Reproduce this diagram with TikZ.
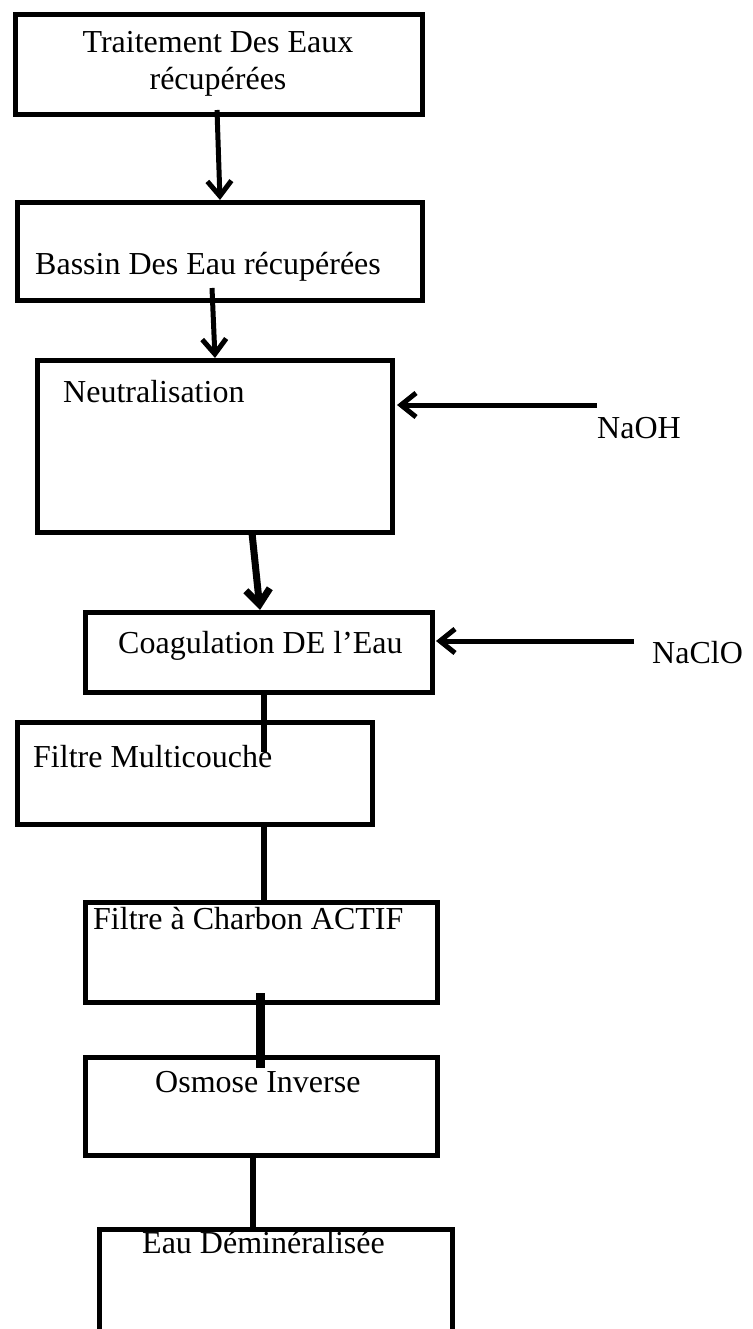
\documentclass[tikz,border=0pt]{standalone}
\usepackage{fontspec}
\setmainfont{Liberation Serif}
\usetikzlibrary{arrows.meta}

\begin{document}
\begin{tikzpicture}[x=1pt,y=-1pt,
  boite/.style={draw,line width=5pt,rectangle,inner sep=0pt},
  texte/.style={inner sep=0pt,anchor=base west,font=\fontsize{32}{37}\selectfont},
  fleche/.style={line width=5pt,-{Straight Barb[length=15pt,width=24pt]}},
  liaison/.style={line width=6pt}]
 \clip (0,0) rectangle (752,1329);
 % boites
 \node[boite,minimum width=407pt,minimum height=100pt] (traitement) at (219,64.5) {};
 \node[boite,minimum width=405pt,minimum height=98pt] (bassin) at (220,251.5) {};
 \node[boite,minimum width=355pt,minimum height=172pt] (neutra) at (215,446.5) {};
 \node[boite,minimum width=347pt,minimum height=80pt] (coag) at (259,652.5) {};
 \node[boite,minimum width=355pt,minimum height=102pt] (multi) at (195,773.5) {};
 \node[boite,minimum width=352pt,minimum height=100pt] (charbon) at (261.5,952.5) {};
 \node[boite,minimum width=352pt,minimum height=98pt] (osmose) at (261.5,1106.5) {};
 \node[boite,minimum width=353pt,minimum height=200pt] (eaudemi) at (276,1329) {};
 % textes
 \node[texte,anchor=base] (t1) at (218,53) {Traitement Des Eaux};
 \node[texte,anchor=base] (t1b) at (218,90) {récupérées};
 \node[texte] (t2) at (35,275) {Bassin Des Eau récupérées};
 \node[texte] (t3) at (63,402) {Neutralisation};
 \node[texte] (naoh) at (597,438) {NaOH};
 \node[texte] (t4) at (118,653) {Coagulation DE l’Eau};
 \node[texte] (naclo) at (652,663) {NaClO};
 \node[texte] (t5) at (33,767) {Filtre Multicouche};
 \node[texte] (t6) at (93,929) {Filtre à Charbon ACTIF};
 \node[texte] (t7) at (155,1092) {Osmose Inverse};
 \node[texte] (t8) at (142,1253) {Eau Déminéralisée};
 % points libres
 \coordinate (d1) at (217,110);
 \coordinate (d2) at (212,288);
 \coordinate (d3) at (252,533);
 \coordinate (e3) at (260,610);
 \coordinate (s1) at (597,405);
 \coordinate (a1) at (397,405);
 \coordinate (s2) at (634,641);
 \coordinate (a2) at (436,641);
 \coordinate (f1) at (264,752);
 \coordinate (d4) at (260,993);
 \coordinate (f4) at (260,1068);
 % fleches
 \draw[fleche] (d1) -- (bassin.north);
 \draw[fleche] (d2) -- (neutra.north);
 \draw[fleche,line width=7pt] (d3) -- (e3);
 \draw[fleche] (s1) -- (a1);
 \draw[fleche] (s2) -- (a2);
 \draw[liaison] (coag.south -| f1) -- (f1);
 \draw[liaison] (multi.south -| f1) -- (charbon.north -| f1);
 \draw[liaison,line width=9pt] (d4) -- (f4);
 \draw[liaison] (osmose.south -| 253,0) -- (eaudemi.north -| 253,0);
\end{tikzpicture}
\end{document}
